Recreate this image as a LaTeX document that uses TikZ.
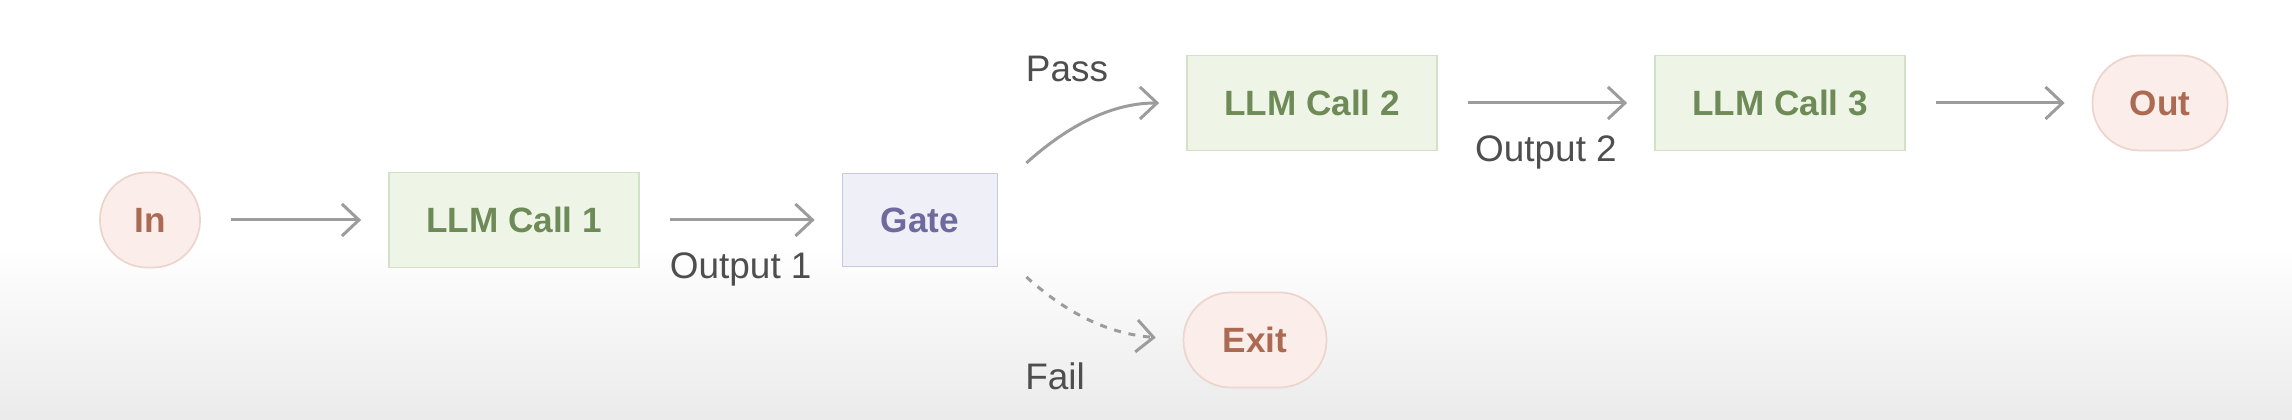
\documentclass[tikz,border=0pt]{standalone}
\usepackage{fontspec}
\setmainfont{Liberation Sans}
\usetikzlibrary{arrows.meta}
\definecolor{termfill}{HTML}{FBEEEA}
\definecolor{termline}{HTML}{EDD5CE}
\definecolor{termtext}{HTML}{AD6A52}
\definecolor{llmfill}{HTML}{EEF5E7}
\definecolor{llmline}{HTML}{D3E2C6}
\definecolor{llmtext}{HTML}{6E8A57}
\definecolor{gatefill}{HTML}{EFEFF8}
\definecolor{gateline}{HTML}{C8C7DD}
\definecolor{gatetext}{HTML}{6F6A9E}
\definecolor{arrowgray}{HTML}{9C9C9C}
\definecolor{lbltext}{HTML}{4E4E4E}
\begin{document}
\begin{tikzpicture}[>={Straight Barb[length=1.7mm,width=3.2mm]},
    flow/.style={->, draw=arrowgray, line width=0.85pt, shorten <=0.3cm, shorten >=0.27cm},
    llm/.style={draw=llmline, fill=llmfill, text=llmtext, line width=0.5pt, minimum width=2.5cm, minimum height=0.95cm, font=\fontsize{10}{12}\selectfont\bfseries},
    gate/.style={draw=gateline, fill=gatefill, text=gatetext, line width=0.5pt, minimum width=1.55cm, minimum height=0.93cm, font=\fontsize{10}{12}\selectfont\bfseries},
    term/.style={draw=termline, fill=termfill, text=termtext, line width=0.5pt, rounded corners=0.47cm, minimum height=0.95cm, font=\fontsize{10}{12}\selectfont\bfseries},
    lbl/.style={text=lbltext, font=\fontsize{10.5}{12}\selectfont}]
    % page and faded floor
    \useasboundingbox (0,0) rectangle (22.92,4.2);
    \fill[white] (0,0) rectangle (22.92,4.2);
    \shade[top color=white, bottom color=black!8] (0,0) rectangle (22.92,1.75);
    % steps
    \node[term, minimum width=1cm] (in) at (1.50,2.0) {In};
    \node[llm] (llm1) at (5.14,2.0) {LLM Call 1};
    \node[gate] (gate) at (9.20,2.0) {Gate};
    \node[llm] (llm2) at (13.12,3.17) {LLM Call 2};
    \node[llm] (llm3) at (17.80,3.17) {LLM Call 3};
    \node[term, minimum width=1.35cm] (out) at (21.60,3.17) {Out};
    \node[term, minimum width=1.43cm] (exit) at (12.55,0.80) {Exit};
    \coordinate (passfrom) at ([shift={(0.28,0.57)}]gate.east);
    \coordinate (failfrom) at ([shift={(0.28,-0.57)}]gate.east);
    % links
    \draw[flow] (in) -- (llm1);
    \draw[flow] (llm1) -- node[lbl, below=0.2cm] (output1) {Output 1} (gate);
    \draw[flow, shorten <=0pt] (passfrom) to[out=42, in=180] (llm2.west);
    \draw[flow, dash pattern=on 2pt off 2.2pt, shorten <=0pt] (failfrom) to[out=-42, in=175] (exit.west);
    \draw[flow] (llm2) -- node[lbl, below=0.2cm] (output2) {Output 2} (llm3);
    \draw[flow] (llm3) -- (out);
    \node[lbl] (pass) at (10.67,3.51) {Pass};
    \node[lbl] (fail) at (10.55,0.44) {Fail};
\end{tikzpicture}
\end{document}
